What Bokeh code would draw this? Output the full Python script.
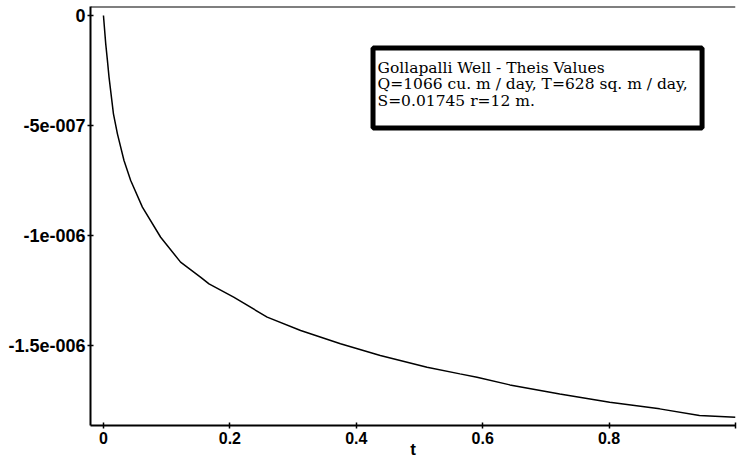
from bokeh.plotting import figure
from bokeh.models import FixedTicker, Span, BoxAnnotation, Label, Range1d
from bokeh.embed import file_html
from bokeh.resources import INLINE

# data
t_vals = [0.0, 0.0036, 0.0063, 0.0088, 0.0158, 0.0221, 0.0325, 0.0431, 0.0616,
          0.0905, 0.122, 0.154, 0.167, 0.206, 0.259, 0.312, 0.375, 0.438,
          0.512, 0.564, 0.591, 0.643, 0.722, 0.801, 0.880, 0.943, 1.0]
s_vals = [0.0, -1.29e-7, -2.05e-7, -2.80e-7, -4.47e-7, -5.38e-7, -6.59e-7, -7.50e-7, -8.71e-7,
          -1.008e-6, -1.121e-6, -1.190e-6, -1.220e-6, -1.280e-6, -1.371e-6, -1.432e-6, -1.492e-6, -1.545e-6,
          -1.599e-6, -1.629e-6, -1.644e-6, -1.679e-6, -1.720e-6, -1.758e-6, -1.788e-6, -1.818e-6, -1.826e-6]

x_ticks = [0, 0.2, 0.4, 0.6, 0.8, 1.0]
x_tick_labels = ["0", "0.2", "0.4", "0.6", "0.8", ""]
y_ticks = [0, -5e-7, -1e-6, -1.5e-6]
y_tick_labels = ["0", "-5e-007", "-1e-006", "-1.5e-006"]

legend_lines = ["Gollapalli Well - Theis Values",
                "Q=1066 cu. m / day, T=628 sq. m / day,",
                "S=0.01745 r=12 m."]
x_axis_title = "t"

x_lo, x_hi = -0.0205, 1.0
y_lo, y_hi = -1.8636e-6, 4.09e-8

p = figure(width=741, height=461, output_backend="svg", toolbar_location=None,
           x_range=Range1d(x_lo, x_hi), y_range=Range1d(y_lo, y_hi),
           min_border_left=90, min_border_right=6, min_border_top=6, min_border_bottom=36,
           background_fill_color="white", border_fill_color="white")
p.outline_line_color = None
p.grid.visible = False

p.line(t_vals, s_vals, line_color="black", line_width=1.5)

for ax, ticks, labels in ((p.xaxis[0], x_ticks, x_tick_labels), (p.yaxis[0], y_ticks, y_tick_labels)):
    ax.ticker = FixedTicker(ticks=ticks)
    ax.major_label_overrides = {k: v for k, v in zip(ticks, labels)}
    ax.axis_line_width = 2
    ax.axis_line_color = "black"
    ax.major_tick_in = 3
    ax.major_tick_out = 3
    ax.major_tick_line_width = 1.5
    ax.minor_tick_line_color = None
    ax.major_label_text_font = "Liberation Sans"
    ax.major_label_text_font_style = "bold"
    ax.major_label_text_color = "black"

p.xaxis.major_label_text_font_size = "16px"
p.xaxis.major_label_standoff = 3
p.yaxis.major_label_text_font_size = "18px"
p.yaxis.major_label_standoff = 2

p.xaxis.axis_label = x_axis_title
p.xaxis.axis_label_text_font = "Liberation Sans"
p.xaxis.axis_label_text_font_style = "bold"
p.xaxis.axis_label_text_font_size = "17px"
p.xaxis.axis_label_text_color = "black"
p.xaxis.axis_label_standoff = -7

# top border line
p.add_layout(Span(location=y_hi, dimension="width", line_color="black", line_width=2))

# legend box
p.add_layout(BoxAnnotation(left=0.4265, right=0.9471, top=-1.477e-7, bottom=-5.114e-7,
                           fill_color="white", fill_alpha=1.0,
                           line_color="black", line_alpha=1.0, line_width=5, level="overlay"))
baselines = [-2.364e-7, -3.114e-7, -3.864e-7]
for txt, yb in zip(legend_lines, baselines):
    p.add_layout(Label(x=0.4336, y=yb, text=txt, text_font="DejaVu Serif",
                       text_font_size="15.5px", text_baseline="alphabetic",
                       text_align="left", text_color="black", level="overlay"))

open("out.html", "w").write(file_html(p, INLINE))
